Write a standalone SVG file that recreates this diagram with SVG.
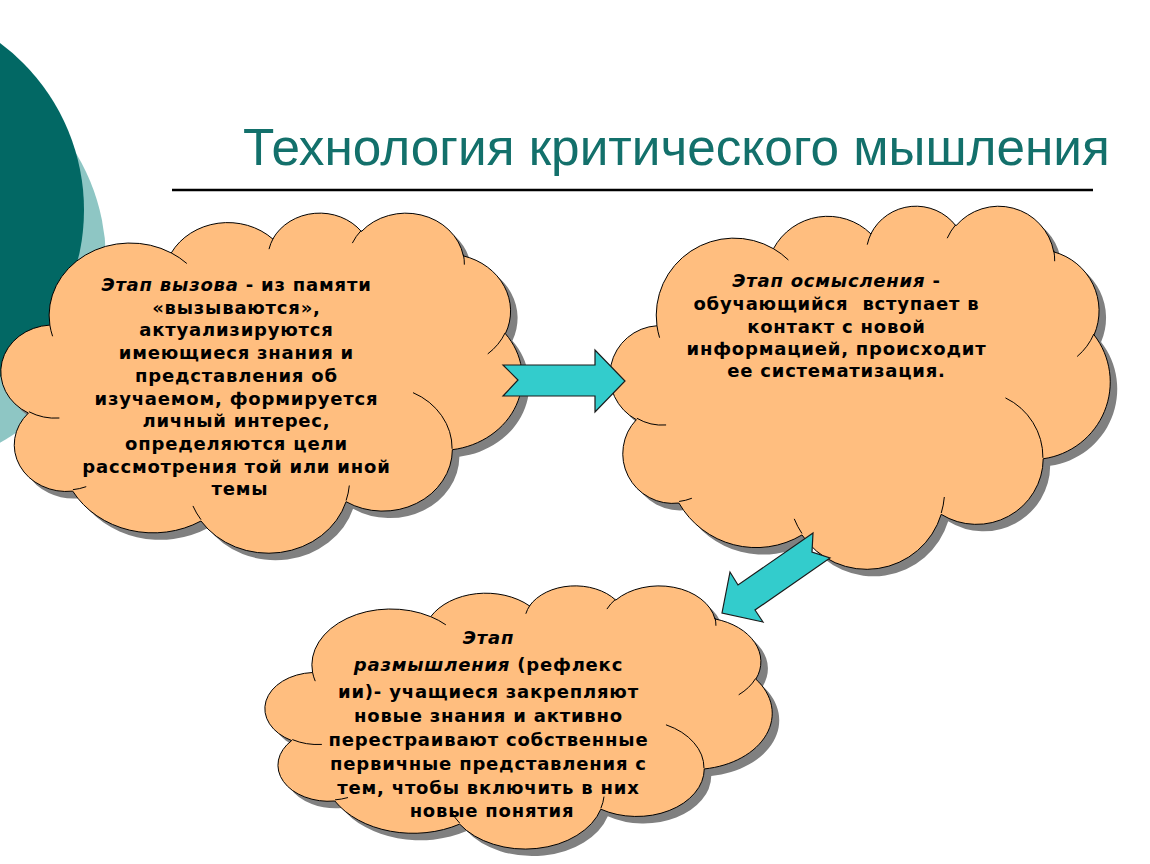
<svg xmlns="http://www.w3.org/2000/svg" xmlns:xlink="http://www.w3.org/1999/xlink" width="1150" height="864" viewBox="0 0 1150 864">
<style>
.shadow{fill:#808080;stroke:none}
.cloud{fill:#FFBE7F;stroke:#000;stroke-width:1}
.inner{stroke:#000;stroke-width:1}
.arrow{fill:#33CCCC;stroke:#1a1a1a;stroke-width:1.2;stroke-linejoin:miter}
.txt{font-family:"DejaVu Sans",Verdana,sans-serif;font-weight:bold;font-size:18px;fill:#000;text-anchor:middle;letter-spacing:0.8px}
.it{font-style:italic}
.title{font-family:"Liberation Sans",Arial,sans-serif;font-size:51.3px;fill:#13706B}
</style>
<defs>
<path id="cloudShape" vector-effect="non-scaling-stroke" d="M3900 14370 A6753 9190 0 0 1 14005 5202 A5333 7267 0 0 1 22456 3432 A4365 5945 0 0 1 29833 2481 A4857 6595 0 0 1 38318 5576 A5333 7273 0 0 1 41818 15460 A6775 9220 0 0 1 37404 30203 A5785 7867 0 0 1 28556 36813 A6752 9215 0 0 1 16480 39264 A7720 10543 0 0 1 5804 35470 A4360 5918 0 0 1 2113 25548 A4345 5945 0 0 1 3900 14370 Z"/>
<path id="cloudInner" vector-effect="non-scaling-stroke" fill="none" d="M4693 26177 A4345 5945 0 0 1 2160 25380 M6928 34899 A4360 5918 0 0 1 5820 35281 M16478 39090 A6752 9215 0 0 1 15810 37350 M28827 34751 A6752 9215 0 0 1 28560 36660 M34129 22954 A5785 7867 0 0 1 37380 30090 M41798 15354 A5333 7273 0 0 1 40350 18030 M38324 5426 A4857 6595 0 0 1 38401 6690 M29078 3952 A4857 6595 0 0 1 29820 2340 M22141 4720 A4365 5945 0 0 1 22500 3330 M14000 5192 A6753 9190 0 0 1 15300 6540 M4127 15789 A6753 9190 0 0 1 3900 14370"/>
</defs>
<rect width="1150" height="864" fill="#fff"/>
<g id="background">
<circle cx="-103" cy="261" r="209" fill="#8EC6C4"/>
<circle cx="-124" cy="210" r="208" fill="#026864"/>
</g>
<g id="title">
<text class="title" x="243" y="165">Технология критического мышления</text>
<line x1="172" y1="190" x2="1093" y2="190" stroke="#000" stroke-width="2.5"/>
</g>
<g id="cloud-1">
<use xlink:href="#cloudShape" class="shadow" transform="translate(10 219) scale(0.012014 0.00787)"/>
<use xlink:href="#cloudShape" class="cloud" transform="translate(3 212) scale(0.012014 0.00787)"/>
<use xlink:href="#cloudInner" class="inner" transform="translate(3 212) scale(0.012014 0.00787)"/>
<text class="txt">
<tspan x="240" y="291"><tspan class="it">Этап вызова</tspan> - из памяти</tspan>
<tspan x="240" y="313.7">«вызываются»,</tspan>
<tspan x="240" y="336.4">актуализируются</tspan>
<tspan x="240" y="359">имеющиеся знания и</tspan>
<tspan x="240" y="381.8">представления об</tspan>
<tspan x="240" y="404.5">изучаемом, формируется</tspan>
<tspan x="240" y="427">личный интерес,</tspan>
<tspan x="240" y="450">определяются цели</tspan>
<tspan x="240" y="472.6">рассмотрения той или иной</tspan>
<tspan x="240" y="495.3">темы</tspan>
</text>
</g>
<g id="cloud-2">
<use xlink:href="#cloudShape" class="shadow" transform="translate(619 212) scale(0.011528 0.008403)"/>
<use xlink:href="#cloudShape" class="cloud" transform="translate(612 205) scale(0.011528 0.008403)"/>
<use xlink:href="#cloudInner" class="inner" transform="translate(612 205) scale(0.011528 0.008403)"/>
<text class="txt" xml:space="preserve">
<tspan x="840" y="287"><tspan class="it">Этап осмысления</tspan> -</tspan>
<tspan x="840" y="310">обучающийся  вступает в</tspan>
<tspan x="840" y="333">контакт с новой</tspan>
<tspan x="840" y="355">информацией, происходит</tspan>
<tspan x="840" y="377">ее систематизация.</tspan>
</text>
</g>
<g id="cloud-3">
<use xlink:href="#cloudShape" class="shadow" transform="translate(274 592) scale(0.01169 0.00609)"/>
<use xlink:href="#cloudShape" class="cloud" transform="translate(267 585) scale(0.01169 0.00609)"/>
<use xlink:href="#cloudInner" class="inner" transform="translate(267 585) scale(0.01169 0.00609)"/>
<text class="txt">
<tspan x="492" y="644" class="it">Этап</tspan>
<tspan x="492" y="671"><tspan class="it">размышления</tspan> (рефлекс</tspan>
<tspan x="492" y="698">ии)- учащиеся закрепляют</tspan>
<tspan x="492" y="722">новые знания и активно</tspan>
<tspan x="492" y="746">перестраивают собственные</tspan>
<tspan x="492" y="770">первичные представления с</tspan>
<tspan x="492" y="794">тем, чтобы включить в них</tspan>
<tspan x="492" y="817">новые понятия</tspan>
</text>
</g>
<g id="connectors">
<polygon class="arrow" points="503,365 595,365 595,350 625,381 595,412 595,396 503,396 518,380"/>
<polygon class="arrow" points="813,533 738,585 730,572 722,613 763,622 755,610 830,558 812,552"/>
</g>
</svg>
